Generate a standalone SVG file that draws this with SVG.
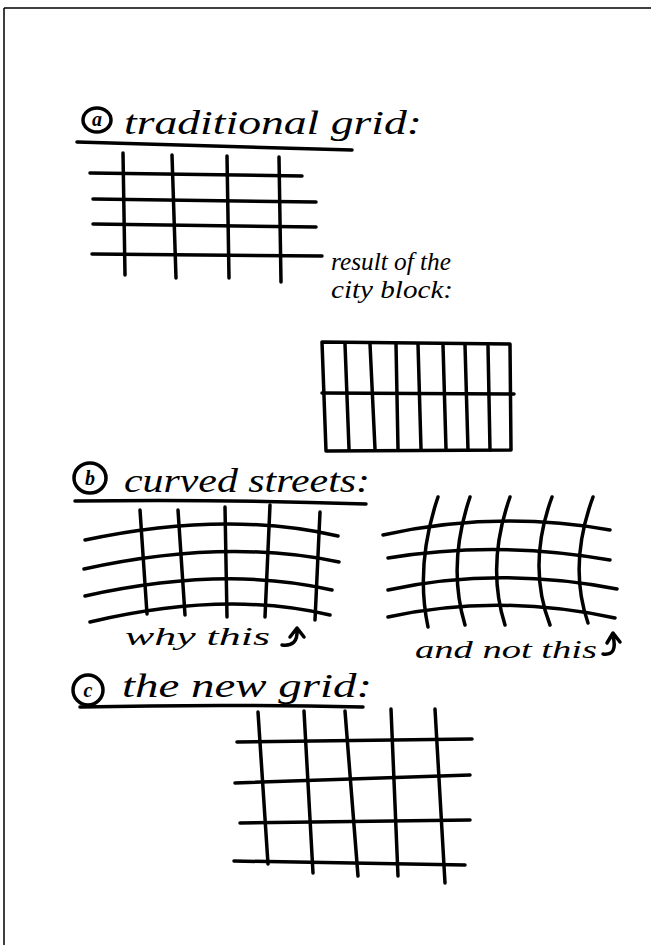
<svg xmlns="http://www.w3.org/2000/svg" width="651" height="945" viewBox="0 0 651 945">
<style>
.s{fill:none;stroke:#000;stroke-width:3.5;stroke-linecap:round;stroke-linejoin:round}
.t{font-family:"Liberation Serif",serif;font-style:italic;fill:#000}
.h{font-size:34px}
.m{font-size:25px}
.c{font-size:20px;font-weight:bold}
</style>
<rect width="651" height="945" fill="#fff"/>
<path d="M4 8 H651 M4 8 V945" stroke="#000" stroke-width="1.5" fill="none"/>

<g id="section-a">
<ellipse class="s" cx="97" cy="120" rx="14" ry="12" stroke-width="2.5"/>
<text class="t c" x="97" y="126" text-anchor="middle">a</text>
<text class="t h" x="124" y="134" textLength="298" lengthAdjust="spacingAndGlyphs">traditional grid:</text>
<path class="s" d="M77 142 Q200 146 352 150"/>
</g>

<g id="grid-a">
<path class="s" d="M123 153 L125 275 M172 155 L176 278 M227 156 L229 278 M279 157 L281 282"/>
<path class="s" d="M90 173 L302 176 M93 199 L316 202 M93 224 L316 227 M92 254 L322 256"/>
</g>

<g id="label-result">
<text class="t m" x="331" y="270" textLength="120" lengthAdjust="spacingAndGlyphs">result of the</text>
<text class="t m" x="331" y="298" textLength="122" lengthAdjust="spacingAndGlyphs">city block:</text>
</g>

<g id="city-block">
<path class="s" d="M322 342 L510 344 L511 450 L326 451 Z"/>
<path class="s" d="M322 393 L514 394"/>
<path class="s" d="M345 344 L349 449 M370 344 L375 449 M396 344 L398 449 M418 344 L421 449 M443 345 L446 449 M465 345 L468 450 M488 346 L490 450"/>
</g>

<g id="section-b">
<ellipse class="s" cx="90" cy="478" rx="16" ry="15" stroke-width="2.5"/>
<text class="t c" x="90" y="485" text-anchor="middle">b</text>
<text class="t h" x="124" y="492" textLength="246" lengthAdjust="spacingAndGlyphs">curved streets:</text>
<path class="s" d="M75 501 Q220 499 366 504"/>
</g>

<g id="curved-grid-left">
<path class="s" d="M85 540 Q225 510 338 536 M84 569 Q225 538 339 562 M85 596 Q225 565 332 590 M90 622 Q225 590 330 615"/>
<path class="s" d="M140 510 L147 614 M178 510 L185 615 M225 507 L227 617 M270 505 L265 617 M320 512 L315 620"/>
</g>

<g id="label-why">
<text class="t m" x="125" y="645" textLength="145" lengthAdjust="spacingAndGlyphs">why this</text>
<path class="s" d="M282 645 Q298 647 297 630 M290 637 L297 628 L304 637" stroke-width="3"/>
</g>

<g id="curved-grid-right">
<path class="s" d="M383 535 Q497 510 610 530 M388 558 Q497 540 610 560 M388 590 Q497 566 617 589 M388 617 Q497 593 615 618"/>
<path class="s" d="M438 497 Q415 565 428 627 M470 497 Q447 565 465 625 M510 497 Q486 565 505 625 M552 497 Q527 565 550 625 M593 497 Q568 565 588 623"/>
</g>

<g id="label-and-not">
<text class="t m" x="415" y="658" textLength="182" lengthAdjust="spacingAndGlyphs">and not this</text>
<path class="s" d="M603 654 Q618 656 613 636 M607 643 L613 633 L620 642" stroke-width="3"/>
</g>

<g id="section-c">
<ellipse class="s" cx="88" cy="690" rx="15" ry="15" stroke-width="2.5"/>
<text class="t c" x="88" y="697" text-anchor="middle">c</text>
<text class="t h" x="122" y="697" textLength="250" lengthAdjust="spacingAndGlyphs">the new grid:</text>
<path class="s" d="M80 707 Q220 704 363 707"/>
</g>

<g id="grid-c">
<path class="s" d="M237 742 L472 739 M235 783 L470 775 M240 823 L470 820 M234 861 L465 865"/>
<path class="s" d="M258 712 L268 864 M304 711 L313 873 M345 711 L358 876 M391 709 L398 876 M435 709 L445 883"/>
</g>
</svg>
